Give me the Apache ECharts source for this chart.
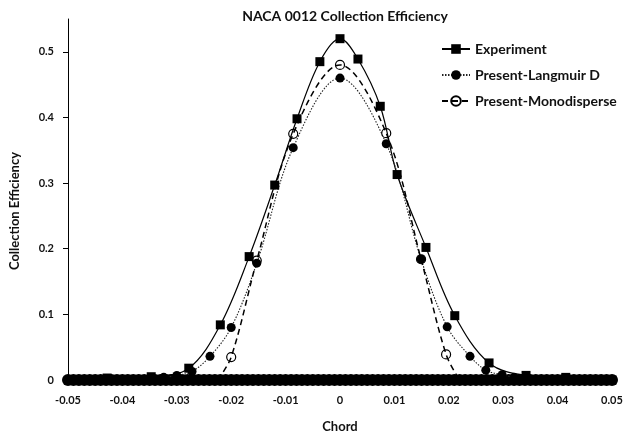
<!DOCTYPE html>
<html>
<head>
<meta charset="utf-8">
<script src="https://cdn.jsdelivr.net/npm/echarts@6/dist/echarts.min.js"></script>
<style>
  html, body { margin: 0; padding: 0; background: #ffffff; }
  #chart { width: 627px; height: 438px; }
</style>
</head>
<body>
<div id="chart"></div>
<script>
// Measured collection efficiency along the chord
const experimentX = [-0.0428, -0.0347, -0.0278, -0.022, -0.0167, -0.012, -0.0079, -0.0037, 0, 0.0033, 0.0074, 0.0105, 0.0158, 0.0211, 0.0274, 0.0342, 0.0415, 0.05];
const experimentY = [0.003, 0.005, 0.018, 0.084, 0.188, 0.297, 0.398, 0.485, 0.52, 0.489, 0.417, 0.313, 0.202, 0.098, 0.026, 0.007, 0.004, 0.0];

// Simulation with Langmuir D droplet distribution
const langmuirX = [-0.0324, -0.030, -0.0272, -0.0239, -0.020, -0.0153, -0.0086, 0, 0.0085, 0.0149, 0.0197, 0.0239, 0.0268, 0.0298, 0.032];
const langmuirY = [0.004, 0.007, 0.013, 0.036, 0.080, 0.178, 0.354, 0.46, 0.360, 0.184, 0.081, 0.036, 0.015, 0.008, 0.004];

// Simulation with monodisperse droplets
const monoX = [-0.0225, -0.020, -0.0153, -0.0086, 0, 0.0085, 0.0149, 0.0195, 0.022];
const monoY = [0.0, 0.035, 0.182, 0.375, 0.48, 0.376, 0.184, 0.039, 0.0];

// Surface stations where the computed efficiency is zero (in thousandths of chord)
const surfaceStations = [-50, -49, -48, -47, -46, -45, -44, -43, -42, -41, -40, -39, -38, -37, -36, -35, -34, -33, -32, -31,
  -30, -29, -28, -27, -26, -25, -24, -23, -22, -21, -20, -19, -18, -17, -16, -15, -14, -13, -12, -11,
  -10, -9, -8, -7, -6, -5, -4, -3, -2, -1, 0, 1, 2, 3, 4, 5, 6, 7, 8, 9,
  10, 11, 12, 13, 14, 15, 16, 17, 18, 19, 20, 21, 22, 23, 24, 25, 26, 27, 28, 29,
  30, 31, 32, 33, 34, 35, 36, 37, 38, 39, 40, 41, 42, 43, 44, 45, 46, 47, 48, 49, 50];
const surfaceValues = surfaceStations.map(() => 0);

// Axis ticks
const xTicks = [-0.05, -0.04, -0.03, -0.02, -0.01, 0, 0.01, 0.02, 0.03, 0.04, 0.05];
const yTicks = [0, 0.1, 0.2, 0.3, 0.4, 0.5];

const pair = (xs, ys) => xs.map((x, i) => [x, ys[i]]);
const FONT = 'Lato, "Open Sans", sans-serif';

const chart = echarts.init(document.getElementById('chart'), null, { renderer: 'canvas' });

chart.setOption({
  animation: false,
  backgroundColor: '#ffffff',
  title: {
    text: 'NACA 0012 Collection Efficiency',
    left: 340,
    top: 4,
    textAlign: 'center',
    textStyle: { fontFamily: FONT, fontWeight: 'bold', fontSize: 14, color: '#111' }
  },
  legend: {
    orient: 'vertical',
    left: 436,
    top: 37,
    itemWidth: 28,
    itemHeight: 12,
    itemGap: 12,
    data: ['Experiment', 'Present-Langmuir D', 'Present-Monodisperse'],
    textStyle: { fontFamily: FONT, fontWeight: 'bold', fontSize: 14, color: '#111' }
  },
  grid: { left: 68, right: 15, top: 19, bottom: 54 },
  xAxis: {
    type: 'value',
    min: -0.05,
    max: 0.05,
    interval: 0.01,
    name: 'Chord',
    nameLocation: 'middle',
    nameGap: 40,
    nameTextStyle: { fontFamily: FONT, fontWeight: 'bold', fontSize: 13, color: '#111' },
    axisLine: { onZero: false, lineStyle: { color: '#000', width: 1 } },
    axisTick: { show: false },
    splitLine: { show: false },
    axisLabel: {
      margin: 15,
      customValues: xTicks,
      fontFamily: FONT, fontWeight: 'bold', fontSize: 11, color: '#111',
      formatter: v => (Math.abs(v) < 1e-9 ? '0' : String(+v.toFixed(2)))
    }
  },
  yAxis: {
    type: 'value',
    min: 0,
    max: 0.55,
    interval: 0.1,
    axisLine: { show: true, onZero: false, lineStyle: { color: '#000', width: 1 } },
    axisTick: { show: true, inside: false, length: 5, customValues: yTicks, lineStyle: { color: '#000' } },
    splitLine: { show: false },
    axisLabel: {
      margin: 14,
      customValues: yTicks,
      fontFamily: FONT, fontWeight: 'bold', fontSize: 11, color: '#111',
      formatter: v => (Math.abs(v) < 1e-9 ? '0' : String(+v.toFixed(1)))
    }
  },
  graphic: [{
    type: 'text',
    x: 15,
    y: 211,
    rotation: Math.PI / 2,
    style: {
      text: 'Collection Efficiency',
      textAlign: 'center',
      textVerticalAlign: 'middle',
      font: 'bold 13px ' + FONT,
      fill: '#111'
    }
  }],
  series: [
    {
      name: 'surface',
      type: 'line',
      data: pair(surfaceStations.map(s => s / 1000), surfaceValues),
      symbol: 'circle',
      symbolSize: 12,
      showSymbol: true,
      clip: false,
      lineStyle: { color: '#000', width: 10, cap: 'round' },
      itemStyle: { color: '#000' },
      z: 1
    },
    {
      name: 'Experiment',
      type: 'line',
      data: pair(experimentX, experimentY),
      smooth: 0.35,
      symbol: 'rect',
      symbolSize: 9,
      clip: false,
      lineStyle: { color: '#000', width: 1.2, type: 'solid' },
      itemStyle: { color: '#000' },
      z: 3
    },
    {
      name: 'Present-Langmuir D',
      type: 'line',
      data: pair(langmuirX, langmuirY),
      smooth: 0.35,
      symbol: 'circle',
      symbolSize: 9,
      clip: false,
      lineStyle: { color: '#222', width: 1.1, type: [1.5, 1.5] },
      itemStyle: { color: '#000' },
      z: 3
    },
    {
      name: 'Present-Monodisperse',
      type: 'line',
      data: pair(monoX, monoY),
      smooth: 0.35,
      symbol: 'circle',
      symbolSize: 9,
      clip: false,
      lineStyle: { color: '#000', width: 1.5, type: [6, 4] },
      itemStyle: { color: 'rgba(255,255,255,0)', borderColor: '#000', borderWidth: 1.2 },
      z: 3
    }
  ]
});
</script>
</body>
</html>
